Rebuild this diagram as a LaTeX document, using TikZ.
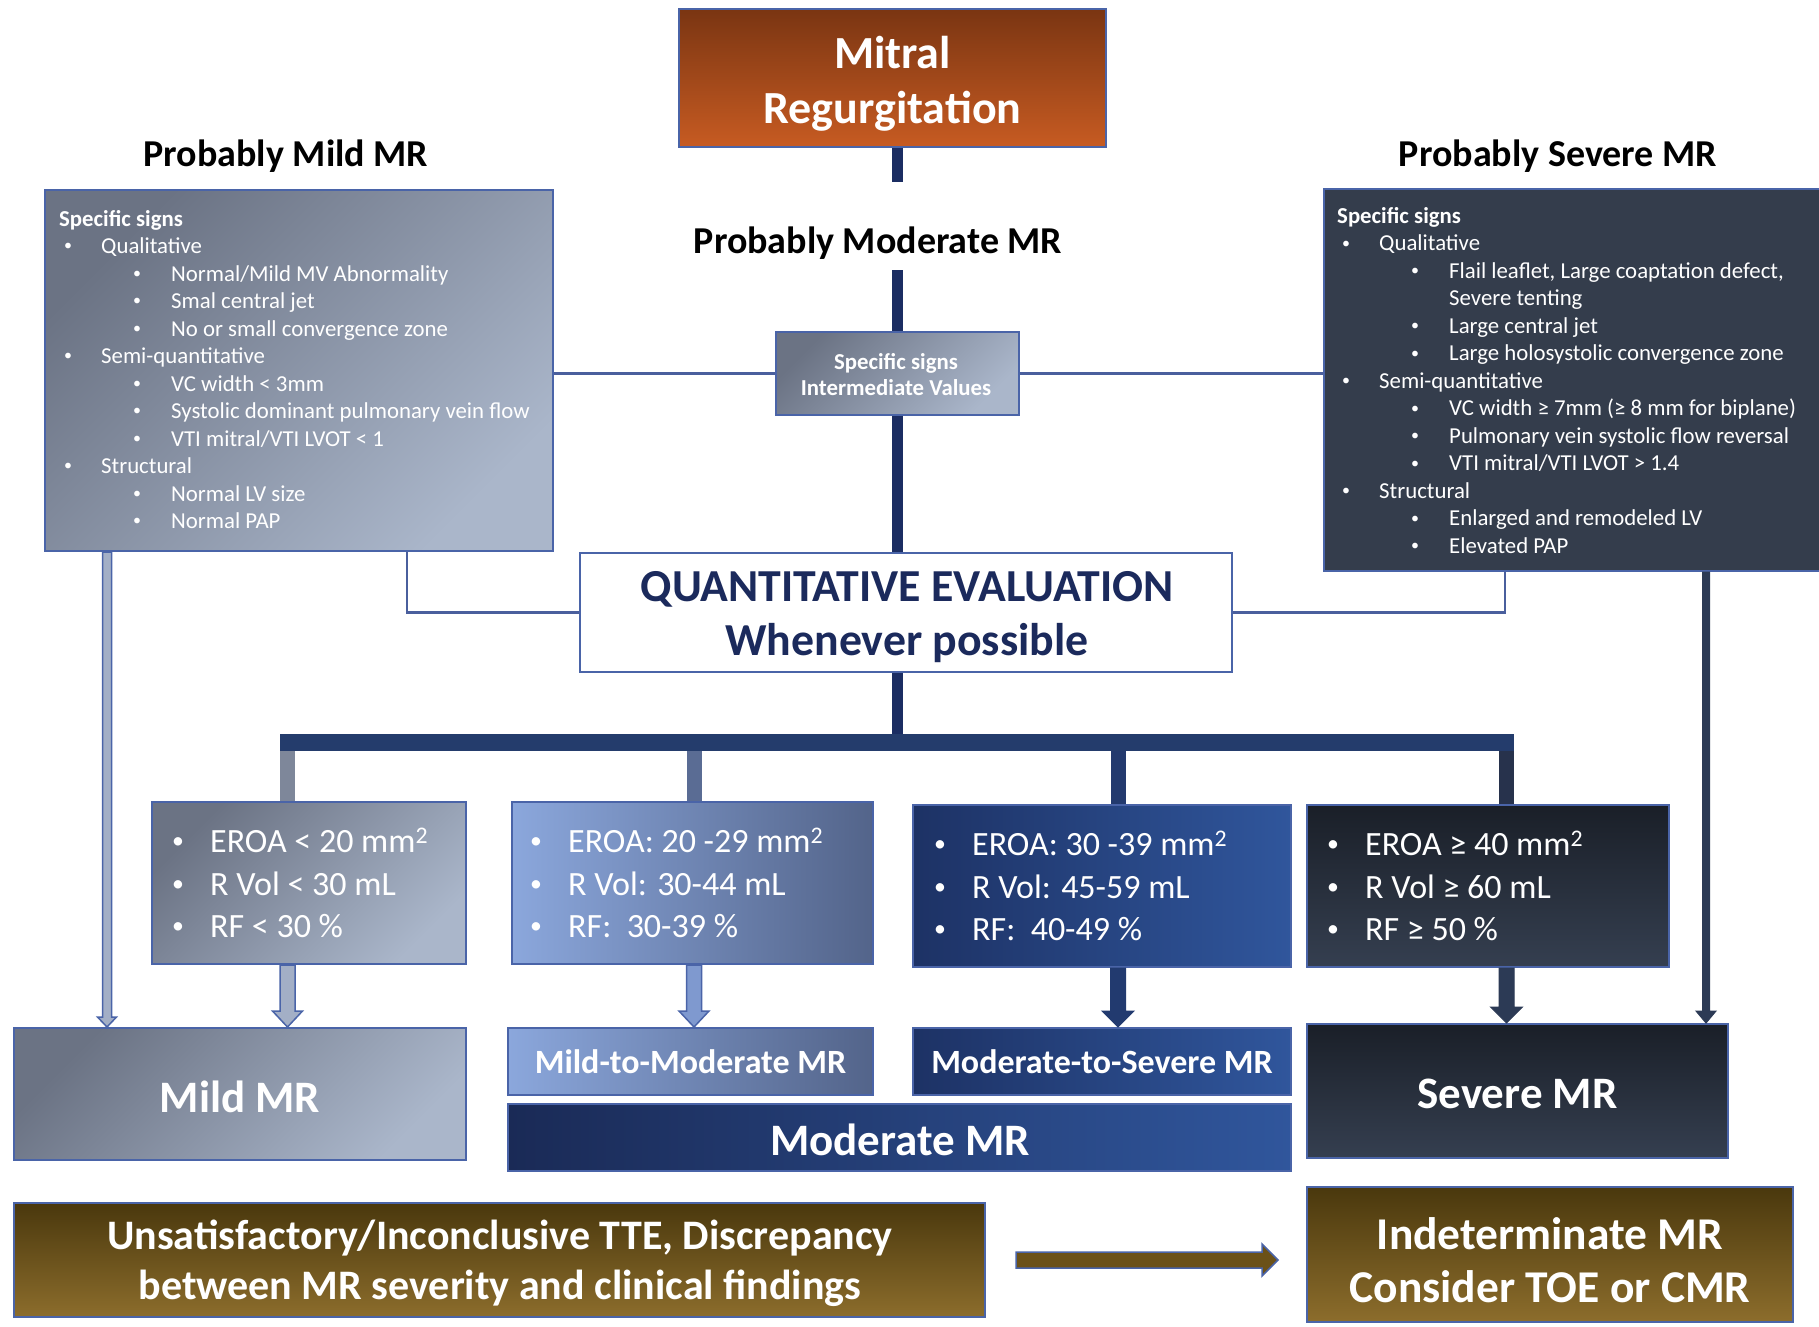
\documentclass[tikz,border=0pt]{standalone}
\usepackage{fontspec}
\setmainfont{Carlito}
\usetikzlibrary{calc}
\definecolor{bord}{HTML}{4A64A8}
\definecolor{navy}{HTML}{1B2D62}
\definecolor{thinc}{HTML}{4A5F9D}
\definecolor{qetxt}{HTML}{1B2A5C}
\definecolor{grayA}{HTML}{6B7384}
\definecolor{grayB}{HTML}{AAB6CA}
\definecolor{slate}{HTML}{343D4C}
\definecolor{ltA}{HTML}{8BA7DC}
\definecolor{ltB}{HTML}{53648A}
\definecolor{mdA}{HTML}{1D3265}
\definecolor{mdB}{HTML}{30569C}
\definecolor{modA}{HTML}{1A2A56}
\definecolor{dkA}{HTML}{1A1F28}
\definecolor{dkB}{HTML}{353F50}
\definecolor{brA}{HTML}{7A3512}
\definecolor{brB}{HTML}{C75B22}
\definecolor{olA}{HTML}{4A380D}
\definecolor{olB}{HTML}{8C6D2C}
\definecolor{olArrow}{HTML}{6B5118}
\definecolor{barc}{HTML}{243C6C}
\definecolor{dropA}{HTML}{7E879A}
\definecolor{dropB}{HTML}{5A6C94}
\definecolor{dropC}{HTML}{233A6E}
\definecolor{dropD}{HTML}{27324C}
\definecolor{arrC}{HTML}{223A6F}
\definecolor{arrD}{HTML}{2C3A55}
\definecolor{lightfill}{HTML}{A3AFC6}
\definecolor{blfill}{HTML}{7F99CF}
\newcommand\sbul{\raisebox{0.12em}{\scalebox{0.7}{\textbullet}}}
\newcommand\Ia{\hspace*{5pt}\makebox[37pt][l]{\sbul}}
\newcommand\Ib{\hspace*{74pt}\makebox[38pt][l]{\sbul}}
\newcommand\bul{\makebox[38pt][l]{\sbul}}
\newcommand\blkdown[6]{%
  \path[#6] let \p1=#1, \p2=(#2.north) in
    (\x1-#3,\y1) -- (\x1+#3,\y1) -- (\x1+#3,\y2+#5) -- (\x1+#4,\y2+#5)
    -- (\x1,\y2) -- (\x1-#4,\y2+#5) -- (\x1-#3,\y2+#5) -- cycle;}
\begin{document}
\begin{tikzpicture}[x=1pt,y=-1pt,
  box/.style={rectangle, draw=bord, line width=2pt, inner sep=0pt},
  graybox/.style={box, top color=grayA, bottom color=grayB, shading angle=45},
  lightbox/.style={box, left color=ltA, right color=ltB},
  midbox/.style={box, left color=mdA, right color=mdB},
  darkbox/.style={box, top color=dkA, bottom color=dkB},
  olivebox/.style={box, top color=olA, bottom color=olB},
  heading/.style={font=\fontsize{38}{46}\selectfont\bfseries, text=black, inner sep=0pt},
  biglist/.style={font=\fontsize{22.8}{27.5}\selectfont, text=white, align=left, inner sep=0pt},
  vallist/.style={font=\fontsize{34}{42.4}\selectfont, text=white, align=left, inner sep=0pt},
  restext/.style={text=white, align=center, font=\bfseries, inner sep=0pt},
  thin/.style={draw=thinc, line width=2.5pt},
  spine/.style={draw=navy, line width=11pt},
]
\useasboundingbox[fill=white] (0,0) rectangle (1819,1326);

% ---- top ----
\node[box, top color=brA, bottom color=brB, minimum width=427pt, minimum height=138pt] (mitral) at (892.5,78) {};
\node[restext, font=\fontsize{46}{55}\selectfont\bfseries] (mitralt) at (892.5,84) {Mitral\\Regurgitation};
\node[heading] (pmild) at (286,156) {Probably Mild MR};
\node[heading] (psev) at (1558,156) {Probably Severe MR};

% ---- sign boxes ----
\node[graybox, minimum width=508pt, minimum height=361pt] (lb) at (299,370.5) {};
\node[box, fill=slate, minimum width=498pt, minimum height=382pt] (rb) at (1573,380) {};
\node[graybox, minimum width=243pt, minimum height=83pt] (mid) at (897,373.5) {};
\node[restext, font=\fontsize{22.8}{26}\selectfont\bfseries] (midt) at (896,375) {Specific signs\\Intermediate Values};

\node[biglist, anchor=west] (lbt) at (59,369.5) {%
\textbf{Specific signs}\\
\Ia Qualitative\\
\Ib Normal/Mild MV Abnormality\\
\Ib Smal central jet\\
\Ib No or small convergence zone\\
\Ia Semi-quantitative\\
\Ib VC width < 3mm\\
\Ib Systolic dominant pulmonary vein flow\\
\Ib VTI mitral/VTI LVOT < 1\\
\Ia Structural\\
\Ib Normal LV size\\
\Ib Normal PAP};

\node[biglist, anchor=west] (rbt) at (1337,380.5) {%
\textbf{Specific signs}\\
\Ia Qualitative\\
\Ib Flail leaflet, Large coaptation defect,\\
\hspace*{112pt}Severe tenting\\
\Ib Large central jet\\
\Ib Large holosystolic convergence zone\\
\Ia Semi-quantitative\\
\Ib VC width ≥ 7mm (≥ 8 mm for biplane)\\
\Ib Pulmonary vein systolic flow reversal\\
\Ib VTI mitral/VTI LVOT > 1.4\\
\Ia Structural\\
\Ib Enlarged and remodeled LV\\
\Ib Elevated PAP};

% ---- quantitative ----
\node[box, fill=white, minimum width=652pt, minimum height=119pt] (qe) at (906,612.5) {};
\node[inner sep=0pt, text=qetxt, align=center, font=\fontsize{45.8}{54.5}\selectfont\bfseries]
      (qet) at (907,617) {QUANTITATIVE EVALUATION\\Whenever possible};

% ---- value boxes ----
\node[graybox, minimum width=314pt, minimum height=162pt] (b1) at (309,883) {};
\node[lightbox, minimum width=361pt, minimum height=162pt] (b2) at (692.5,883) {};
\node[midbox, minimum width=378pt, minimum height=162pt] (b3) at (1102,886) {};
\node[darkbox, minimum width=362pt, minimum height=162pt] (b4) at (1488,886) {};

\node[vallist, anchor=west] (b1t) at (172,883) {\bul EROA < 20 mm\textsuperscript{2}\\\bul R Vol < 30 mL\\\bul RF < 30 \%};
\node[vallist, anchor=west] (b2t) at (530,883) {\bul EROA: 20 -29 mm\textsuperscript{2}\\\bul R Vol: 30-44 mL\\\bul RF:~~30-39 \%};
\node[vallist, anchor=west] (b3t) at (934,886) {\bul EROA: 30 -39 mm\textsuperscript{2}\\\bul R Vol: 45-59 mL\\\bul RF:~~40-49 \%};
\node[vallist, anchor=west] (b4t) at (1327,886) {\bul EROA ≥ 40 mm\textsuperscript{2}\\\bul R Vol ≥ 60 mL\\\bul RF ≥ 50 \%};

% ---- results ----
\node[graybox, minimum width=452pt, minimum height=132pt] (mild) at (240,1094) {};
\node[restext, font=\fontsize{45}{54}\selectfont\bfseries] (mildt) at (240,1097) {Mild MR};
\node[lightbox, minimum width=365pt, minimum height=67pt] (m2m) at (690.5,1061.5) {};
\node[restext, font=\fontsize{34}{40}\selectfont\bfseries] (m2mt) at (690.5,1062) {Mild-to-Moderate MR};
\node[midbox, minimum width=378pt, minimum height=67pt] (m2s) at (1102,1061.5) {};
\node[restext, font=\fontsize{34}{40}\selectfont\bfseries] (m2st) at (1102,1062) {Moderate-to-Severe MR};
\node[box, left color=modA, right color=mdB, minimum width=783pt, minimum height=67pt] (mod) at (899.5,1137.5) {};
\node[restext, font=\fontsize{45}{54}\selectfont\bfseries] (modt) at (900,1140) {Moderate MR};
\node[darkbox, minimum width=421pt, minimum height=134pt] (sev) at (1517.5,1091) {};
\node[restext, font=\fontsize{45}{54}\selectfont\bfseries] (sevt) at (1517.5,1094) {Severe MR};

% ---- bottom ----
\node[olivebox, minimum width=971pt, minimum height=114pt] (unsat) at (499.5,1260) {};
\node[restext, font=\fontsize{42}{50}\selectfont\bfseries] (unsatt) at (500,1263)
      {Unsatisfactory/Inconclusive TTE, Discrepancy\\between MR severity and clinical findings};
\node[olivebox, minimum width=486pt, minimum height=135pt] (indet) at (1550,1254.5) {};
\node[restext, font=\fontsize{45.5}{53}\selectfont\bfseries] (indett) at (1550,1260)
      {Indeterminate MR\\Consider TOE or CMR};

% ---- central spine ----
\node[heading, fill=white, inner xsep=4pt, inner ysep=5pt, text height=66pt, text depth=12pt, anchor=base]
      (pmod) at (878,253) {Probably Moderate MR};
\draw[spine] (mitral.south -| mid.north) -- (pmod.north -| mid.north);
\draw[spine] (pmod.south -| mid.north) -- (mid.north);

% thin connectors
\draw[thin] (lb.east |- mid.west) -- (mid.west);
\draw[thin] (mid.east) -- (rb.west |- mid.east);
\draw[thin] ($(lb.south west)+(363,0)$) |- (qe.west);
\draw[thin] ($(rb.south west)+(182,0)$) |- (qe.east);

% spine to bar
\coordinate (barL) at (280,742);
\coordinate (barR) at (1514,742);
\coordinate (d1) at (287.5,742);
\coordinate (d2) at (694,742);
\coordinate (d3) at (1118,742);
\coordinate (d4) at (1506.5,742);
\draw[spine] (mid.south) -- (qe.north -| mid.south);
\draw[spine] (qe.south -| mid.south) -- (barL -| mid.south);
\draw[dropA, line width=15pt] (d1) -- (d1 |- b1.north);
\draw[dropB, line width=15pt] (d2) -- (d2 |- b2.north);
\draw[dropC, line width=15pt] (d3) -- (d3 |- b3.north);
\draw[dropD, line width=15pt] (d4) -- (d4 |- b4.north);
\draw[barc, line width=17pt] (barL) -- (barR);

% arrows into results
\coordinate (xL) at (107,0);
\coordinate (xR) at (1706,0);
\blkdown{(xL |- lb.south)}{mild}{4.5pt}{9.5pt}{10pt}{fill=lightfill, draw=bord, line width=1.5pt}
\blkdown{(d1 |- b1.south)}{mild}{7.5pt}{15pt}{16pt}{fill=lightfill, draw=bord, line width=1.5pt}
\blkdown{(d2 |- b2.south)}{m2m}{7.5pt}{15pt}{16pt}{fill=blfill, draw=bord, line width=1.5pt}
\blkdown{(d3 |- b3.south)}{m2s}{7.5pt}{16pt}{16pt}{fill=arrC, draw=arrC, line width=1pt}
\blkdown{(d4 |- b4.south)}{sev}{7.5pt}{16pt}{16pt}{fill=arrD, draw=arrD, line width=1pt}
\blkdown{(xR |- rb.south)}{sev}{3.5pt}{10pt}{12pt}{fill=arrD, draw=arrD, line width=1pt}

% bottom arrow
\path[fill=olArrow, draw=bord, line width=1.5pt] let \p1=(unsat.east), \p2=(indet.west) in
  (\x1+30pt,\y1+8pt) -- (\x2-44pt,\y1+8pt) -- (\x2-44pt,\y1+16pt) -- (\x2-28pt,\y1)
  -- (\x2-44pt,\y1-16pt) -- (\x2-44pt,\y1-8pt) -- (\x1+30pt,\y1-8pt) -- cycle;
\end{tikzpicture}
\end{document}
